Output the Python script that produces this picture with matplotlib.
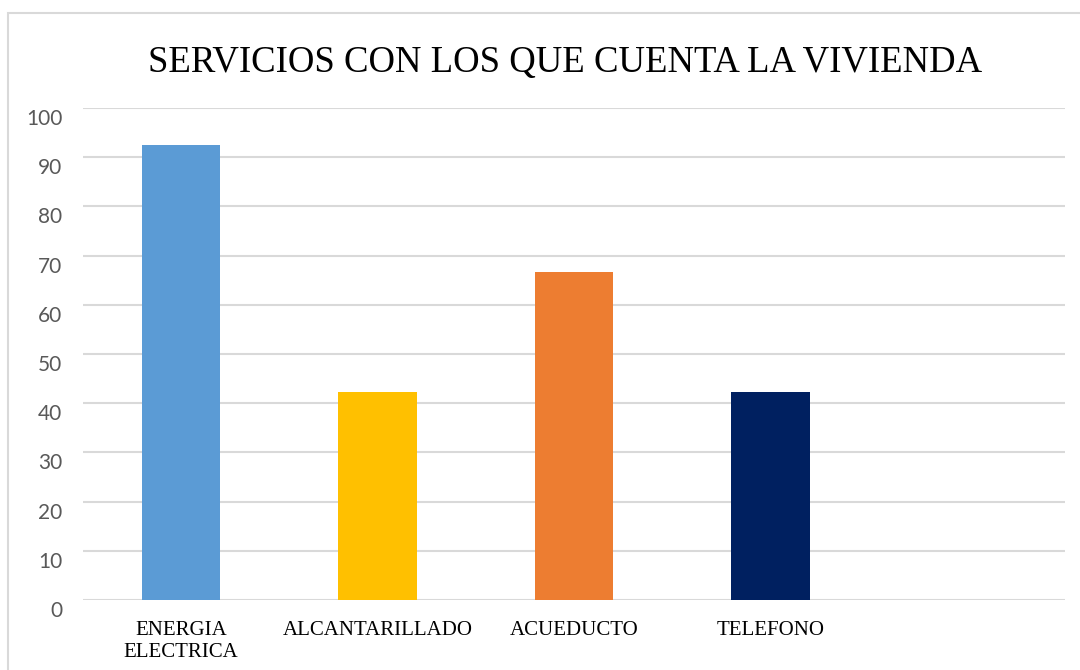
import matplotlib
matplotlib.use("Agg")
import matplotlib.pyplot as plt
from matplotlib.patches import Rectangle
from matplotlib.transforms import ScaledTranslation

# Data
categories = ["ENERGIA\nELECTRICA", "ALCANTARILLADO", "ACUEDUCTO", "TELEFONO"]
values = [92.4, 42.3, 66.6, 42.2]
colors = ["#5B9BD5", "#FFC000", "#ED7D31", "#002060"]
y_ticks = list(range(0, 101, 10))
title = "SERVICIOS CON LOS QUE CUENTA LA VIVIENDA"

W, H = 1080, 670
fig = plt.figure(figsize=(W / 100, H / 100), dpi=100)
fig.patch.set_facecolor("white")

# Chart frame (open to the right and bottom)
fig.add_artist(Rectangle((8 / W, -0.05), 1.1, 1 - 13 / H + 0.05,
                         transform=fig.transFigure, fill=False,
                         edgecolor="#D9D9D9", linewidth=1.5))

left, right = 83 / W, 1065 / W
bottom, top = 1 - 600 / H, 1 - 108 / H
ax = fig.add_axes([left, bottom, right - left, top - bottom])

x = list(range(len(categories)))
ax.bar(x, values, width=0.4, color=colors, zorder=3)

ax.set_xlim(-0.5, 4.5)
ax.set_ylim(0, 100)
ax.set_yticks(y_ticks)
ax.set_yticklabels([str(v) for v in y_ticks], fontfamily="Lato",
                   fontsize=15, color="#595959")
ax.set_xticks(x)
ax.set_xticklabels(categories, fontfamily="Liberation Serif",
                   fontsize=15, color="black", linespacing=1.2, va="top")

ax.tick_params(axis="both", length=0)
ax.tick_params(axis="y", pad=15)
ax.tick_params(axis="x", pad=15)

# value labels sit a little below their gridlines
shift = ScaledTranslation(0, -9 / 100, fig.dpi_scale_trans)
for lbl in ax.get_yticklabels():
    lbl.set_transform(lbl.get_transform() + shift)

for s in ax.spines.values():
    s.set_visible(False)
ax.grid(axis="y", color="#D9D9D9", linewidth=1.5, zorder=0)
ax.set_axisbelow(True)

fig.text(565 / W, 1 - 63 / H, title, fontfamily="Liberation Serif",
         fontsize=26.5, ha="center", va="center", color="black")

fig.savefig("out.png", dpi=100)
